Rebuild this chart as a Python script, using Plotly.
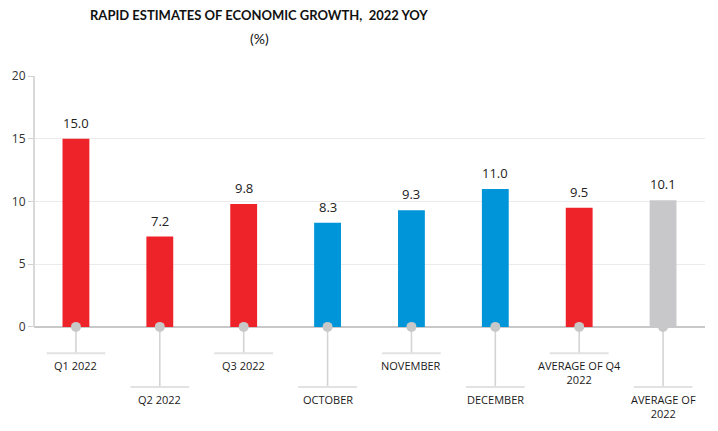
import plotly.graph_objects as go

categories = ["Q1 2022", "Q2 2022", "Q3 2022", "OCTOBER", "NOVEMBER", "DECEMBER",
              "AVERAGE OF Q4<br>2022", "AVERAGE OF<br>2022"]
values = [15.0, 7.2, 9.8, 8.3, 9.3, 11.0, 9.5, 10.1]
bar_colors = ["#EE2229", "#EE2229", "#EE2229", "#0095D9", "#0095D9", "#0095D9",
              "#EE2229", "#C8C8CA"]
label_level = [0, 1, 0, 1, 0, 1, 0, 1]  # 0 = short leader, 1 = long leader
y_ticks = [0, 5, 10, 15, 20]

LABEL_FONT = "Open Sans"
TITLE_FONT = "Lato"
idx = list(range(len(categories)))

fig = go.Figure()
fig.add_trace(go.Bar(x=idx, y=values, marker_color=bar_colors, width=0.32,
                     marker_line_width=0, hoverinfo="skip"))
fig.add_trace(go.Scatter(x=idx, y=[0] * len(idx), mode="markers",
                         marker=dict(color="#C8C8C8", size=10), cliponaxis=False,
                         hoverinfo="skip"))

shapes = []
annotations = []
short_end, long_end = -2.1, -4.8
for i, (c, v, lvl) in enumerate(zip(categories, values, label_level)):
    yend = short_end if lvl == 0 else long_end
    shapes.append(dict(type="line", xref="x", yref="y", x0=i, x1=i, y0=0, y1=yend,
                       line=dict(color="#D4D4D4", width=1.6), layer="below"))
    shapes.append(dict(type="line", xref="x", yref="y", x0=i - 0.35, x1=i + 0.35,
                       y0=yend, y1=yend, line=dict(color="#E2E2E2", width=2)))
    annotations.append(dict(x=i, y=yend - 0.2, xref="x", yref="y", text=c,
                            showarrow=False, yanchor="top", xanchor="center",
                            font=dict(family=LABEL_FONT, size=11, color="#1a1a1a")))
    annotations.append(dict(x=i, y=v, xref="x", yref="y", text=f"{v:.1f}",
                            showarrow=False, yanchor="bottom", yshift=5,
                            font=dict(family=LABEL_FONT, size=13, color="#222222")))

# left axis line (only over 0..20)
shapes.append(dict(type="line", xref="paper", yref="y", x0=0, x1=0, y0=0, y1=20,
                   line=dict(color="#D9D9D9", width=2)))

annotations.append(dict(xref="paper", yref="paper", x=(259 - 34) / 671, y=(431 - 15) / 355,
                        text="<b>RAPID ESTIMATES OF ECONOMIC GROWTH,  2022 YOY</b>",
                        showarrow=False, xanchor="center", yanchor="middle",
                        font=dict(family=TITLE_FONT, size=13, color="#111111")))
annotations.append(dict(xref="paper", yref="paper", x=(259 - 34) / 671, y=(431 - 39) / 355,
                        text="(%)", showarrow=False, xanchor="center", yanchor="middle",
                        font=dict(family=TITLE_FONT, size=14, color="#111111")))

# The page body adds an 8px offset; the figure is sized so the plot lands where the
# reference has it.
fig.update_layout(
    width=710, height=423,
    margin=dict(l=26, r=13, t=68, b=0),
    paper_bgcolor="white", plot_bgcolor="white",
    showlegend=False,
    shapes=shapes, annotations=annotations,
    xaxis=dict(range=[-0.5, 7.5], showticklabels=False, showgrid=False, zeroline=False,
               showline=False, ticks="", fixedrange=True, automargin=False),
    yaxis=dict(range=[-8.3, 20], tickvals=y_ticks, ticktext=[str(t) for t in y_ticks],
               showgrid=True, gridcolor="#EBEBEB", gridwidth=1,
               zeroline=True, zerolinecolor="#C8C8C8", zerolinewidth=1.5,
               showline=False, ticks="outside", ticklen=5, tickcolor="#D0D0D0",
               tickfont=dict(family=LABEL_FONT, size=12, color="#333333"),
               fixedrange=True, automargin=False),
)

fig.write_html("out.html")
